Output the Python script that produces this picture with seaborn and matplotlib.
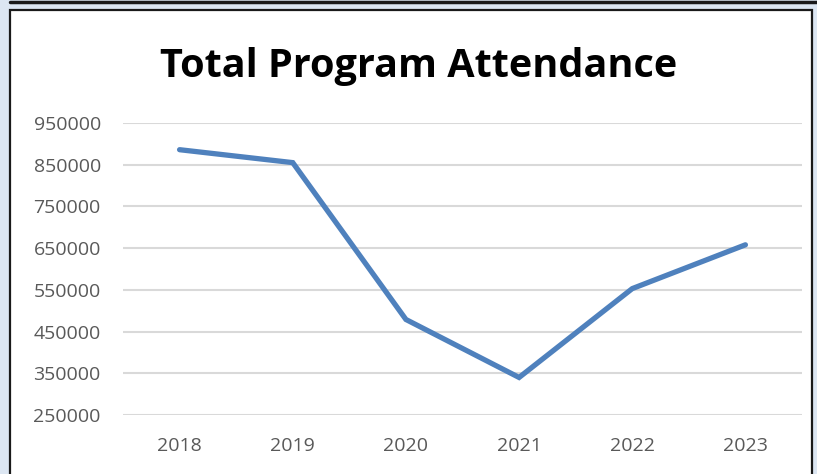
import seaborn as sns
import pandas as pd
import matplotlib.pyplot as plt
from matplotlib.patches import Rectangle
from matplotlib.lines import Line2D

years = ["2018", "2019", "2020", "2021", "2022", "2023"]
attendance = [886000, 855000, 479000, 340000, 553000, 658000]
y_ticks = [250000, 350000, 450000, 550000, 650000, 750000, 850000, 950000]

sns.set_style("white")
plt.rcParams['font.family'] = ['Open Sans', 'DejaVu Sans']

W, H = 817, 474
fig = plt.figure(figsize=(W / 100, H / 100), dpi=100, facecolor="#dce6f2")

# chart box and the strip above it
fig.patches.append(Rectangle((10 / W, -0.05), 802 / W, 1 - 10 / H + 0.05, transform=fig.transFigure,
                             facecolor="white", edgecolor="#1a1a1a", linewidth=1.6, zorder=-10))
fig.lines.append(Line2D([10 / W, 1.0], [1 - 2 / H, 1 - 2 / H], transform=fig.transFigure,
                        color="#1a1a1a", linewidth=2.5, zorder=-10))

ax = fig.add_axes([123 / W, 1 - 415 / H, (802 - 123) / W, (415 - 123) / H])
ax.set_facecolor("none")

df = pd.DataFrame({"Year": years, "Attendance": attendance})
sns.lineplot(data=df, x="Year", y="Attendance", ax=ax, color="#4f81bd", linewidth=3.8,
             solid_capstyle="round", solid_joinstyle="miter", zorder=3)

ax.set_xlim(-0.5, len(years) - 0.5)
ax.set_ylim(y_ticks[0], y_ticks[-1])
ax.set_yticks(y_ticks)
ax.set_yticklabels([str(v) for v in y_ticks])
ax.grid(axis="y", color="#d9d9d9", linewidth=1.5)
ax.grid(axis="x", visible=False)
for s in ax.spines.values():
    s.set_visible(False)
ax.tick_params(axis="both", length=0, labelsize=14, labelcolor="#595959")
ax.tick_params(axis="y", pad=16)
ax.tick_params(axis="x", pad=16)
ax.set_xlabel("")
ax.set_ylabel("")

fig.text(419 / W, 1 - 66 / H, "Total Program Attendance", ha="center", va="center",
         fontsize=28.5, fontweight="bold", color="black")

fig.savefig("out.png", dpi=100, facecolor=fig.get_facecolor())
